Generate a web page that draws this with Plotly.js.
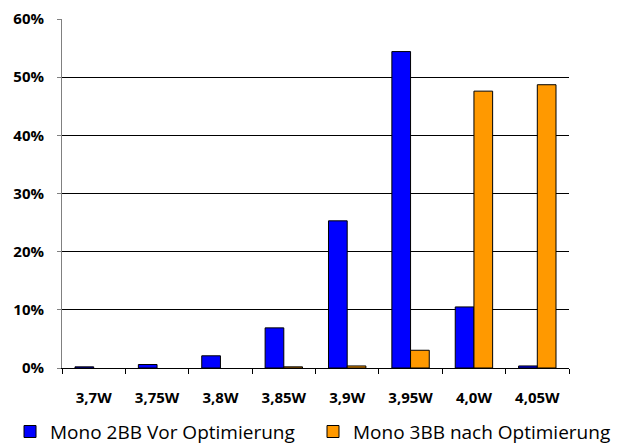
<!DOCTYPE html>
<html><head><meta charset="utf-8">
<script src="https://cdn.plot.ly/plotly-3.0.1.min.js"></script>
<style>body{margin:0;background:#fff}#chart{width:626px;height:445px}</style>
</head><body><div id="chart"></div>
<script>
const categories = ["3,7W","3,75W","3,8W","3,85W","3,9W","3,95W","4,0W","4,05W"];
const seriesNames = ["Mono 2BB Vor Optimierung","Mono 3BB nach Optimierung"];
const blueValues = [0.002,0.006,0.021,0.069,0.253,0.544,0.105,0.0035];
const orangeValues = [null,null,null,0.002,0.0035,0.0305,0.476,0.487];
const yTickVals = [0,0.1,0.2,0.3,0.4,0.5,0.6];
const yTickText = ["0%","10%","20%","30%","40%","50%","60%"];

const fontFam = "Open Sans, Noto Sans, sans-serif";
const data = [
  {type:"bar", name:seriesNames[0], x:categories, y:blueValues, legend:"legend",
   marker:{color:"#0000ff", line:{color:"#000", width:1}}},
  {type:"bar", name:seriesNames[1], x:categories, y:orangeValues, legend:"legend2",
   marker:{color:"#ff9900", line:{color:"#000", width:1}}}
];
const legendFont = {family:fontFam, size:19, color:"#000"};
const layout = {
  width:626, height:445,
  margin:{l:62, r:57, t:19, b:77},
  paper_bgcolor:"#fff", plot_bgcolor:"#fff",
  barmode:"group", bargap:0.41, bargroupgap:0,
  showlegend:true,
  legend:{orientation:"h", xref:"container", yref:"container",
    x:0.016, xanchor:"left", y:0.03, yanchor:"middle",
    font:legendFont, itemwidth:30, bgcolor:"rgba(0,0,0,0)"},
  legend2:{orientation:"h", xref:"container", yref:"container",
    x:0.5, xanchor:"left", y:0.03, yanchor:"middle",
    font:legendFont, itemwidth:30, bgcolor:"rgba(0,0,0,0)"},
  xaxis:{type:"category", tickson:"boundaries", ticks:"outside", ticklen:5,
    tickcolor:"#000", showline:true, linecolor:"#000", linewidth:1,
    showgrid:false, zeroline:false, ticklabelstandoff:16,
    tickfont:{family:fontFam, size:15, color:"#000", weight:"bold"}},
  yaxis:{range:[0,0.6], tickvals:yTickVals, ticktext:yTickText,
    showgrid:true, gridcolor:"#000", gridwidth:1,
    showline:true, linecolor:"#808080", linewidth:1, zeroline:false,
    ticks:"outside", ticklen:4, tickcolor:"#808080", ticklabelstandoff:10,
    tickfont:{family:fontFam, size:15, color:"#000", weight:"bold"}}
};
Plotly.newPlot("chart", data, layout, {displayModeBar:false, staticPlot:true});
</script></body></html>
